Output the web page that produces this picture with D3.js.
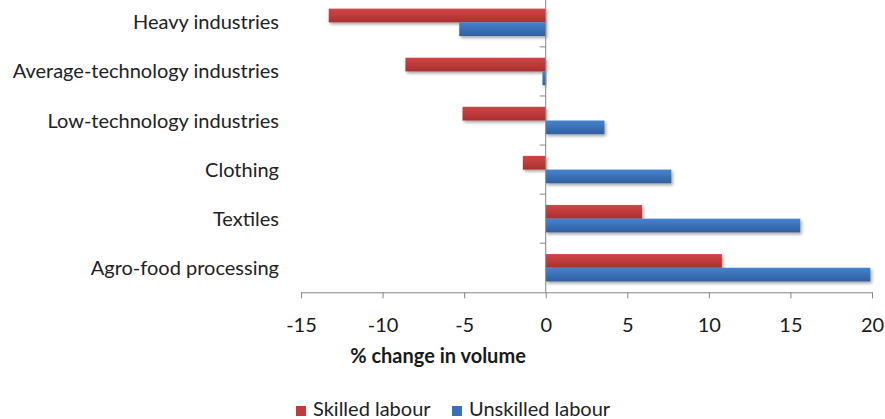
<!DOCTYPE html>
<html>
<head>
<meta charset="utf-8">
<script src="https://cdn.jsdelivr.net/npm/d3@7"></script>
<style>
  html, body { margin: 0; padding: 0; background: #ffffff; }
  svg { display: block; }
  text { font-family: Lato, "Open Sans", sans-serif; }
</style>
</head>
<body>
<svg id="chart" width="885" height="419"></svg>
<script>
const categories = ["Heavy industries", "Average-technology industries", "Low-technology industries", "Clothing", "Textiles", "Agro-food processing"];
const skilled = [-13.3, -8.6, -5.1, -1.4, 5.9, 10.8];
const unskilled = [-5.3, -0.2, 3.6, 7.7, 15.6, 19.9];
const seriesNames = ["Skilled labour", "Unskilled labour"];
const seriesColors = ["#C4393B", "#3A70BE"];
const xTicks = [-15, -10, -5, 0, 5, 10, 15, 20];
const xTitle = "% change in volume";

const svg = d3.select("#chart");

const defs = svg.append("defs");
const gradDefs = [
  {id: "gRed", top: "#D44547", bottom: "#A8302F"},
  {id: "gBlue", top: "#4682CF", bottom: "#2F5F9F"}
];
gradDefs.forEach(g => {
  const lg = defs.append("linearGradient").attr("id", g.id).attr("x1", 0).attr("y1", 0).attr("x2", 0).attr("y2", 1);
  lg.append("stop").attr("offset", "0%").attr("stop-color", g.top);
  lg.append("stop").attr("offset", "100%").attr("stop-color", g.bottom);
});
const f = defs.append("filter").attr("id", "shadow").attr("x", "-10%").attr("y", "-30%").attr("width", "130%").attr("height", "180%");
f.append("feDropShadow").attr("dx", 1.5).attr("dy", 2).attr("stdDeviation", 1.5).attr("flood-color", "#000").attr("flood-opacity", 0.35);

const x = d3.scaleLinear().domain([-15, 20]).range([301, 872]);
const y0 = d3.scaleBand().domain(categories).range([-2.2, 292.3]).paddingInner(0).paddingOuter(0);
const y1 = d3.scaleBand().domain(seriesNames).range([0, y0.bandwidth()]).paddingInner(0).paddingOuter(0.79);

const data = categories.map((c, i) => ({cat: c, vals: [skilled[i], unskilled[i]]}));

// bars
const groups = svg.append("g").selectAll("g").data(data).join("g")
  .attr("transform", d => `translate(0,${y0(d.cat)})`);
groups.selectAll("rect").data(d => d.vals.map((v, j) => ({v, s: seriesNames[j], j})))
  .join("rect")
  .attr("x", d => x(Math.min(0, d.v)))
  .attr("width", d => Math.abs(x(d.v) - x(0)))
  .attr("y", d => y1(d.s))
  .attr("height", y1.bandwidth())
  .attr("fill", d => d.j === 0 ? "url(#gRed)" : "url(#gBlue)")
  .attr("filter", "url(#shadow)");

// x axis
const xAxis = svg.append("g").attr("transform", `translate(0,${292.3})`)
  .call(d3.axisBottom(x).tickValues(xTicks).tickSize(6).tickSizeOuter(0).tickPadding(20).tickFormat(d => String(d)));
xAxis.select(".domain").attr("stroke", "#868686");
xAxis.selectAll(".tick line").attr("stroke", "#868686");
xAxis.selectAll(".tick text").attr("font-size", 20).attr("fill", "#1a1a1a").attr("font-family", "Lato, sans-serif");

// y axis (at zero)
const yAxis = svg.append("g").attr("transform", `translate(${x(0)},0)`);
yAxis.append("line").attr("x1", 0).attr("x2", 0).attr("y1", y0.range()[0]).attr("y2", 292.3).attr("stroke", "#868686");
yAxis.selectAll(".yt").data(categories.slice(1)).join("line")
  .attr("class", "yt")
  .attr("x1", -6).attr("x2", 0)
  .attr("y1", d => y0(d)).attr("y2", d => y0(d))
  .attr("stroke", "#868686");

// category labels
svg.append("g").selectAll("text").data(categories).join("text")
  .attr("x", 279)
  .attr("y", d => y0(d) + y0.bandwidth() / 2)
  .attr("dy", "0.35em")
  .attr("text-anchor", "end")
  .attr("font-size", 20)
  .attr("fill", "#222")
  .text(d => d);

// axis title
svg.append("text")
  .attr("x", 438).attr("y", 363)
  .attr("text-anchor", "middle")
  .attr("font-size", 20).attr("font-weight", "bold")
  .attr("fill", "#1a1a1a")
  .text(xTitle);

// legend
const legend = svg.append("g");
const legendX = [296, 452];
seriesNames.forEach((s, i) => {
  legend.append("rect").attr("x", legendX[i]).attr("y", 406).attr("width", 10).attr("height", 10).attr("fill", seriesColors[i]);
  legend.append("text").attr("x", legendX[i] + 17).attr("y", 416)
    .attr("font-size", 20).attr("fill", "#222").text(s);
});
</script>
</body>
</html>
